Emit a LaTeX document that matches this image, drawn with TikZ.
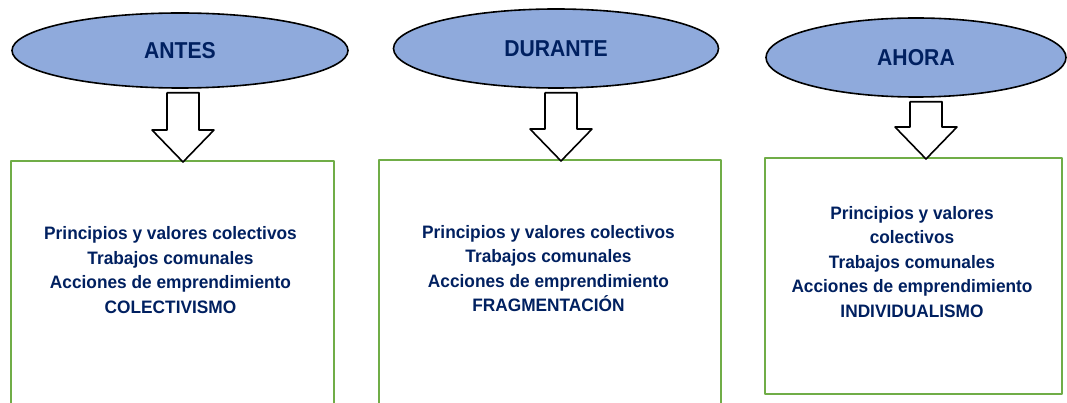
\documentclass[tikz,border=0pt]{standalone}
\usepackage{fontspec}
\setmainfont{Liberation Sans}
\newfontfamily\rotulo[FakeStretch=0.92]{Liberation Sans}
\newfontfamily\cuerpo[FakeStretch=0.96]{Liberation Sans}
\usetikzlibrary{shapes.geometric,calc}
\definecolor{azulglobo}{HTML}{8FAADC}
\definecolor{azultexto}{HTML}{002060}
\definecolor{verdecaja}{HTML}{70AD47}
% flecha hueca de #1 (globo) a #2 (caja), desplazada #3 en x
\newcommand\flechahueca[3]{%
	\draw[flecha] let \p1=($(#1.south)+(#3,0)$), \p2=(#2.north) in
	(\x1-16pt,\y1-4pt) -- (\x1+16pt,\y1-4pt) -- (\x1+16pt,\y2+30pt) -- (\x1+31pt,\y2+30pt)
	-- (\x1,\y2-2pt) -- (\x1-31pt,\y2+30pt) -- (\x1-16pt,\y2+30pt) -- cycle;}
\begin{document}
\begin{tikzpicture}[x=1pt,y=-1pt,line join=round]
	\tikzset{
		globo/.style={ellipse, draw=black, line width=1.6pt, fill=azulglobo, inner sep=0pt,
			text=azultexto, font=\rotulo\fontsize{23}{27}\selectfont\bfseries},
		caja/.style={draw=verdecaja, line width=2.2pt, fill=white, anchor=north west},
		texto/.style={text=azultexto, align=center, font=\cuerpo\fontsize{18}{24.5}\selectfont\bfseries},
		flecha/.style={draw=black, line width=1.6pt, fill=white}
	}
	\useasboundingbox (0,0) rectangle (1067,403);
	\clip (0,0) rectangle (1067,403);
	
	\node[caja, minimum width=323pt, minimum height=270pt] (b1) at (10,160) {};
	\node[caja, minimum width=342pt, minimum height=270pt] (b2) at (378,159) {};
	\node[caja, minimum width=297pt, minimum height=236pt] (b3) at (764,157) {};
	
	\node[globo, minimum width=336pt, minimum height=75pt] (e1) at (180,50.5) {ANTES};
	\node[globo, minimum width=325pt, minimum height=79pt] (e2) at (556,48.5) {DURANTE};
	\node[globo, minimum width=300pt, minimum height=79pt] (e3) at (916,57.5) {AHORA};
	
	\flechahueca{e1}{b1}{3}
	\flechahueca{e2}{b2}{5}
	\flechahueca{e3}{b3}{10}
	
	\node[texto] (t1) at (170.5,270) {Principios y valores colectivos\\Trabajos comunales\\Acciones de emprendimiento\\COLECTIVISMO};
	\node[texto] (t2) at (548.5,268.5) {Principios y valores colectivos\\Trabajos comunales\\Acciones de emprendimiento\\FRAGMENTACIÓN};
	\node[texto] (t3) at (912,262) {Principios y valores\\colectivos\\Trabajos comunales\\Acciones de emprendimiento\\INDIVIDUALISMO};
\end{tikzpicture}
\end{document}
